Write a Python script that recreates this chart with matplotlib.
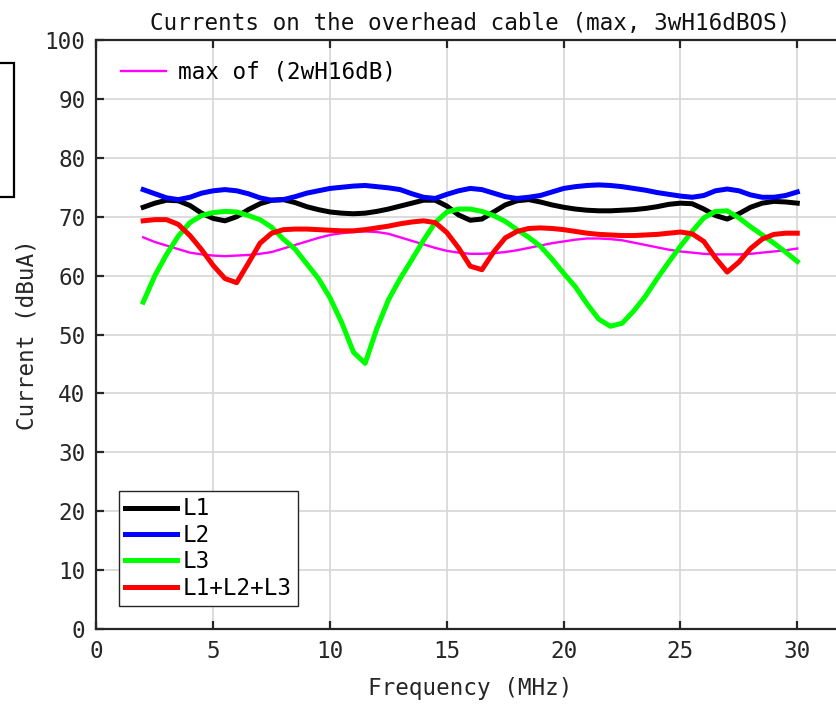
import numpy as np
import matplotlib
matplotlib.use("Agg")
import matplotlib.pyplot as plt
from matplotlib.patches import Rectangle

plt.rcParams['font.family'] = ['DejaVu Sans Mono', 'DejaVu Sans']

# Frequency grid (MHz)
freq = np.arange(2.0, 30.01, 0.5)

# Currents (dBuA)
L1 = [71.6, 72.3, 72.8, 72.7, 71.9, 70.6, 69.7, 69.3, 70.0, 71.2, 72.2, 72.8, 72.9,
      72.4, 71.7, 71.2, 70.8, 70.6, 70.5, 70.6, 70.9, 71.3, 71.8,
      72.3, 72.8, 72.8, 71.8, 70.3, 69.4, 69.6, 70.8, 72.0, 72.7, 72.9,
      72.5, 72.0, 71.6, 71.3, 71.1, 71.0, 71.0, 71.1, 71.2, 71.4, 71.7,
      72.1, 72.3, 72.2, 71.3, 70.2, 69.6, 70.5, 71.6, 72.3, 72.6, 72.5, 72.3]

L2 = [74.6, 73.9, 73.2, 72.9, 73.3, 74.0, 74.4, 74.6, 74.4, 73.9, 73.2, 72.8, 72.9,
      73.4, 74.0, 74.4, 74.8, 75.0, 75.2, 75.3, 75.1, 74.9, 74.6,
      73.9, 73.3, 73.1, 73.8, 74.4, 74.8, 74.6, 74.0, 73.4, 73.1, 73.3,
      73.6, 74.2, 74.8, 75.1, 75.3, 75.4, 75.3, 75.1, 74.8, 74.5, 74.1,
      73.8, 73.5, 73.3, 73.6, 74.4, 74.7, 74.4, 73.7, 73.3, 73.3, 73.6, 74.2]

L3 = [55.5, 60.0, 63.6, 66.7, 69.0, 70.2, 70.7, 70.9, 70.8, 70.2, 69.5, 68.2, 66.2,
      64.5, 62.0, 59.5, 56.2, 52.0, 47.0, 45.1, 51.0, 55.9, 59.5,
      62.7, 66.0, 69.0, 70.8, 71.3, 71.3, 70.9, 70.2, 69.2, 67.8, 66.5,
      65.0, 62.8, 60.4, 58.1, 55.2, 52.6, 51.4, 51.9, 54.0, 56.5, 59.5,
      62.3, 65.0, 67.5, 69.8, 70.9, 71.0, 69.8, 68.3, 66.9, 65.5, 64.0, 62.4]

L_sum = [69.3, 69.5, 69.5, 68.7, 66.8, 64.4, 61.7, 59.5, 58.8, 62.1, 65.5, 67.2, 67.8,
         67.9, 67.9, 67.8, 67.7, 67.6, 67.6, 67.8, 68.1, 68.4, 68.8,
         69.1, 69.3, 69.0, 67.3, 64.7, 61.6, 61.0, 64.0, 66.4, 67.5, 68.0,
         68.1, 68.0, 67.8, 67.5, 67.2, 67.0, 66.9, 66.8, 66.8, 66.9, 67.0,
         67.2, 67.4, 67.1, 65.8, 63.0, 60.6, 62.3, 64.6, 66.2, 67.0, 67.2, 67.2]

ref_max = [66.5, 65.7, 65.1, 64.5, 63.9, 63.6, 63.4, 63.3, 63.4, 63.5, 63.7, 64.0, 64.6,
           65.2, 65.8, 66.4, 66.9, 67.2, 67.4, 67.5, 67.4, 67.1, 66.5,
           65.9, 65.3, 64.7, 64.2, 63.9, 63.7, 63.7, 63.8, 64.0, 64.3, 64.7,
           65.1, 65.5, 65.8, 66.1, 66.3, 66.3, 66.2, 66.0, 65.6, 65.2, 64.8,
           64.4, 64.1, 63.9, 63.7, 63.6, 63.6, 63.6, 63.7, 63.9, 64.1, 64.3, 64.6]

xticks = [0, 5, 10, 15, 20, 25, 30]
yticks = list(range(0, 101, 10))

W, H = 837, 707
fig = plt.figure(figsize=(W / 100, H / 100), dpi=100)
ax = fig.add_axes([96.5 / W, (H - 629) / H, (844 - 96.5) / W, 589 / H])

fs = 16.3
spine_c = '#262626'

ref_line, = ax.plot(freq, ref_max, color=(1, 0, 1), lw=1.7)
h1, = ax.plot(freq, L1, color='k', lw=3.6)
h2, = ax.plot(freq, L2, color=(0, 0, 1), lw=3.6)
h3, = ax.plot(freq, L3, color=(0, 1, 0), lw=3.6)
h4, = ax.plot(freq, L_sum, color=(1, 0, 0), lw=3.6)

ax.set_xlim(0, 32)
ax.set_ylim(0, 100)
ax.set_xticks(xticks)
ax.set_yticks(yticks)
ax.grid(True, color='#d6d6d6', lw=1.2)
ax.set_axisbelow(True)
for s in ax.spines.values():
    s.set_color(spine_c)
    s.set_linewidth(1.6)
ax.tick_params(direction='in', length=5.8, width=1.6, color=spine_c,
               top=True, right=True, labelsize=fs, labelcolor='#262626', pad=8)

ax.set_title('Currents on the overhead cable (max, 3wH16dBOS)', fontsize=fs,
             color='#111111', pad=7)
ax.set_xlabel('Frequency (MHz)', fontsize=fs, color='#262626', labelpad=10)
ax.set_ylabel('Current (dBuA)', fontsize=fs, color='#262626', labelpad=4)

leg1 = ax.legend([ref_line], ['max of (2wH16dB)'], loc='upper left',
                 bbox_to_anchor=((116 - 96.5) / 747.5, 1 - (56 - 40) / 589),
                 frameon=False, fontsize=fs, handlelength=2.0, handletextpad=0.55,
                 borderaxespad=0, borderpad=0.2)
ax.add_artist(leg1)

leg2 = ax.legend([h1, h2, h3, h4], ['L1', 'L2', 'L3', 'L1+L2+L3'], loc='lower left',
                 bbox_to_anchor=((119 - 96.5) / 747.5, (629 - 606) / 589),
                 fontsize=fs, handlelength=2.3, handletextpad=0.22, labelspacing=0.15,
                 borderaxespad=0, borderpad=0.28, fancybox=False, framealpha=1,
                 edgecolor='#262626')
leg2.get_frame().set_linewidth(1.0)

# Box of a neighbouring panel at the left edge
fig.add_artist(Rectangle((-0.02, (H - 197) / H), 0.02 + 14 / W, 134 / H,
                         transform=fig.transFigure, fill=False,
                         edgecolor='k', lw=1.6, clip_on=False))

fig.savefig('out.png', dpi=100)
